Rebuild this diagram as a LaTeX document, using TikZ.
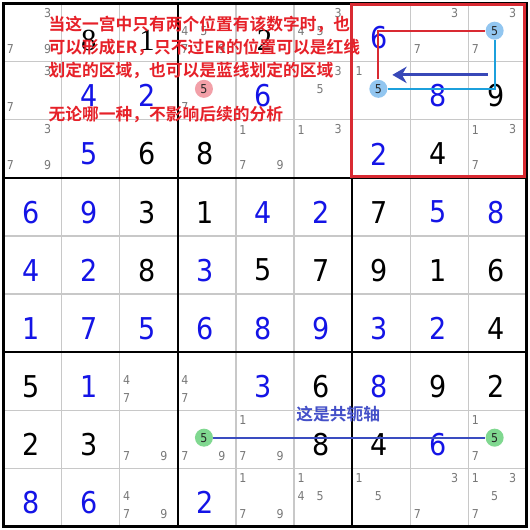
\documentclass[tikz,border=0pt]{standalone}
\usepackage{fontspec}
\newfontfamily\digf{DejaVu Sans Condensed}
\newfontfamily\serf{Liberation Serif}
\newfontfamily\cjk{Noto Sans CJK SC Bold}
\usetikzlibrary{arrows.meta}
\definecolor{gblue}{HTML}{1414E6}
\definecolor{candgray}{HTML}{777777}
\definecolor{gridgray}{HTML}{C8C8C8}
\definecolor{redtxt}{HTML}{E62129}
\definecolor{redln}{HTML}{D92A32}
\definecolor{cyanln}{HTML}{1CA0DC}
\definecolor{linkblue}{HTML}{3A4CC0}
\definecolor{arrowblue}{HTML}{3848B8}
\definecolor{bluetxt}{HTML}{4450C8}
\definecolor{pinkc}{HTML}{F2A0A8}
\definecolor{bluec}{HTML}{92C6F0}
\definecolor{greenc}{HTML}{80D890}
\begin{document}
\begin{tikzpicture}[x=1cm,y=1cm,
  given/.style={font=\digf\fontsize{14.7}{16}\selectfont, inner sep=0pt},
  sgiven/.style={font=\serf\fontsize{15}{16}\selectfont, inner sep=0pt, text=black},
  cand/.style={font=\digf\fontsize{6}{7}\selectfont, text=candgray, inner sep=0pt},
  markc/.style={circle, inner sep=0pt, minimum size=0.31cm, font=\digf\fontsize{6}{7}\selectfont, text=black!85},
  thingrid/.style={draw=gridgray, line width=0.8pt},
  thickgrid/.style={draw=black, line width=1pt},
  redtext/.style={font=\cjk\fontsize{8.2}{10}\selectfont, text=redtxt, inner sep=0pt, anchor=west},
  bluetext/.style={font=\cjk\fontsize{8.2}{10}\selectfont, text=bluetxt, inner sep=0pt},
  redline/.style={draw=redln, line width=1.1pt},
  cyanline/.style={draw=cyanln, line width=1.1pt},
  linkline/.style={draw=linkblue, line width=1.1pt},
  arrowline/.style={draw=arrowblue, line width=1.5pt, -{Stealth[length=7pt,width=8pt]}},
  redbox/.style={draw=redln, line width=1.4pt}
]
\useasboundingbox (-0.058,-0.058) rectangle (9.058,9.058);
\fill[white] (-0.058,-0.058) rectangle (9.058,9.058);
% grid
\foreach \i in {1,2,4,5,7,8} {
  \draw[thingrid] (\i,0) -- (\i,9);
  \draw[thingrid] (0,\i) -- (9,\i);
}
\foreach \i in {3,6} {
  \draw[thickgrid] (\i,0) -- (\i,9);
  \draw[thickgrid] (0,\i) -- (9,\i);
}
\draw[black, line width=1.5pt] (0,0) rectangle (9,9);
% blue givens
\foreach \r/\c/\d in {1/7/6, 2/2/4, 2/3/2, 2/5/6, 2/8/8, 3/2/5, 3/7/2,
  4/1/6, 4/2/9, 4/5/4, 4/6/2, 4/8/5, 4/9/8,
  5/1/4, 5/2/2, 5/4/3,
  6/1/1, 6/2/7, 6/3/5, 6/4/6, 6/5/8, 6/6/9, 6/7/3, 6/8/2,
  7/2/1, 7/5/3, 7/7/8, 8/8/6, 9/1/8, 9/2/6, 9/4/2} {
  \node[given, text=gblue] (g\r\c) at ({\c-0.53},{9.41-\r}) {\d};
}
% black givens
\foreach \r/\c/\d in {2/9/9, 3/3/6, 3/4/8, 3/8/4,
  4/3/3, 4/4/1, 4/7/7,
  5/3/8, 5/5/5, 5/6/7, 5/7/9, 5/8/1, 5/9/6,
  6/9/4,
  7/1/5, 7/6/6, 7/8/9, 7/9/2,
  8/1/2, 8/2/3, 8/6/8, 8/7/4} {
  \node[given, text=black] (g\r\c) at ({\c-0.53},{9.41-\r}) {\d};
}
% serif givens in row 1
\node[sgiven] (g12) at (1.47,8.36) {8};
\node[sgiven] (g13) at (2.47,8.36) {1};
\node[sgiven] (g15) at (4.49,8.36) {2};
% candidates
\foreach \r/\c/\k in {1/1/3,1/1/7,1/1/9, 1/4/4,1/4/5,1/4/7,1/4/9, 1/6/3,1/6/4,1/6/5,
  1/8/3,1/8/7, 1/9/3,1/9/7, 2/1/3,2/1/7, 2/4/7, 2/6/3,2/6/5, 2/7/1,
  3/1/3,3/1/7,3/1/9, 3/5/1,3/5/7,3/5/9, 3/6/1,3/6/3, 3/9/1,3/9/3,3/9/7,
  7/3/4,7/3/7, 7/4/4,7/4/7, 8/3/7,8/3/9, 8/4/7,8/4/9, 8/5/1,8/5/7,8/5/9,
  8/9/1,8/9/7, 9/3/4,9/3/7,9/3/9, 9/5/1,9/5/7,9/5/9, 9/6/1,9/6/4,9/6/5,
  9/7/1,9/7/5, 9/8/3,9/8/7, 9/9/1,9/9/3,9/9/5,9/9/7} {
  \pgfmathtruncatemacro\jj{mod(\k-1,3)}
  \pgfmathtruncatemacro\ii{div(\k-1,3)}
  \pgfmathsetmacro\xx{\c-1+{0.12,0.45,0.76}[\jj]}
  \pgfmathsetmacro\yy{10-\r-{0.17,0.47,0.78}[\ii]}
  \node[cand] (k\r\c\k) at (\xx,\yy) {\k};
}
% marked candidates
\node[markc, fill=bluec] (m19) at (8.45,8.53) {5};
\node[markc, fill=bluec] (m27) at (6.45,7.53) {5};
\node[markc, fill=pinkc] (m24) at (3.45,7.53) {5};
\node[markc, fill=greenc] (m84) at (3.45,1.53) {5};
\node[markc, fill=greenc] (m89) at (8.45,1.53) {5};
% red box and lines
\draw[redbox] (5.99,6.02) rectangle (8.97,8.98);
\draw[redline] (m27) |- (m19);
\draw[cyanline] (m27) -| (m19);
\coordinate (aS) at (8.33,7.77);
\coordinate (aE) at (6.69,7.77);
\draw[arrowline] (aS) -- (aE);
\draw[linkline] (m84) -- (m89);
% texts
\node[redtext] (t1) at (0.77,8.646) {当这一宫中只有两个位置有该数字时，也};
\node[redtext] (t2) at (0.77,8.234) {可以形成ER，只不过ER的位置可以是红线};
\node[redtext] (t3) at (0.77,7.839) {划定的区域，也可以是蓝线划定的区域};
\node[redtext] (t4) at (0.77,7.083) {无论哪一种，不影响后续的分析};
\node[bluetext] (t5) at (5.76,1.93) {这是共轭轴};
\end{tikzpicture}
\end{document}
